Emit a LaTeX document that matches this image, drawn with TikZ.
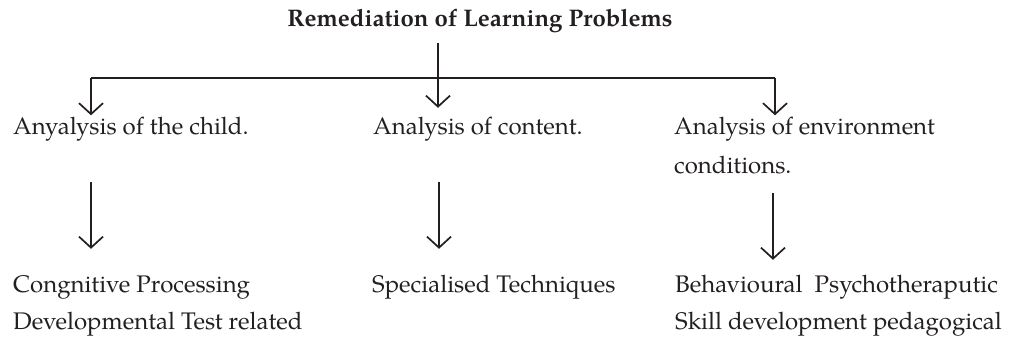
\documentclass[tikz,border=0pt]{standalone}
\usepackage{fontspec}
\setmainfont{TeX Gyre Pagella}
\usetikzlibrary{arrows.meta}
\definecolor{ink}{HTML}{231F20}
\begin{document}
\begin{tikzpicture}[x=1pt,y=-1pt,
  lbl/.style={inner sep=0pt,anchor=base west,text height=17pt,text depth=6pt,text=ink,font=\fontsize{24}{28}\selectfont},
  ttl/.style={inner sep=0pt,anchor=base,text height=17pt,text depth=6pt,text=ink,font=\fontsize{24}{28}\selectfont\bfseries},
  ln/.style={draw=ink,line width=1.7pt},
  arr/.style={ln,-{Straight Barb[length=11pt,width=24pt,line width=1.7pt]}}]
\useasboundingbox (0,0) rectangle (1015,339);
% title
\node[ttl] (title) at (480,27) {Remediation of Learning Problems};
% level 1
\node[lbl] (c1) at (13,135) {Anyalysis of the child.};
\node[lbl] (c2) at (373,135) {Analysis of content.};
\node[lbl] (c3) at (674,135) {Analysis of environment};
\node[lbl] (c3b) at (674,174) {conditions.};
% level 2
\node[lbl] (d1) at (13,292) {Congnitive Processing};
\node[lbl] (d1b) at (13,329) {Developmental Test related};
\node[lbl] (d2) at (372,292) {Specialised Techniques};
\node[lbl] (d3) at (675,292) {Behavioural\ \ Psychotheraputic};
\node[lbl] (d3b) at (675,329) {Skill development pedagogical};
% branch
\coordinate (hl) at (91,78);
\coordinate (hm) at (438,78);
\coordinate (hr) at (775,78);
\draw[ln] (hl) -- (hr);
\draw[arr,shorten <=10pt,shorten >=10pt] (title.south -| hm) -- (c2.north -| hm);
\draw[arr,shorten >=2.5pt] (hl) -- (hl |- c1.north);
\draw[arr,shorten >=2.5pt] (hr) -- (hr |- c3.north);
% level 1 to level 2
\coordinate (vl) at (91,0);
\coordinate (vm) at (439,0);
\coordinate (vr) at (773,0);
\draw[arr,shorten <=41pt,shorten >=26pt] (c1.south -| vl) -- (d1.north -| vl);
\draw[arr,shorten <=41pt,shorten >=26pt] (c2.south -| vm) -- (d2.north -| vm);
\draw[arr,shorten <=13pt,shorten >=15pt] (c3b.south -| vr) -- (d3.north -| vr);
\end{tikzpicture}
\end{document}
